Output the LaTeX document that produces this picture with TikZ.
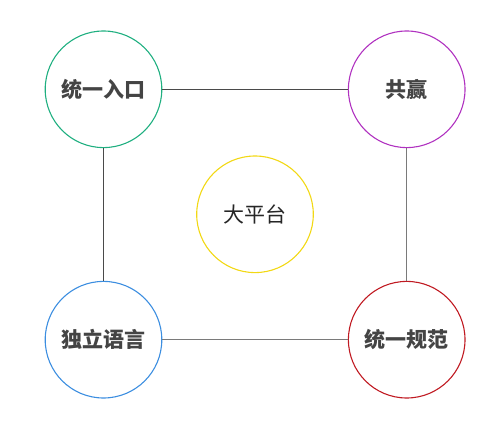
\documentclass[tikz,border=0pt]{standalone}
\usepackage{fontspec}
\newfontfamily\cjk{Noto Sans CJK SC}
\definecolor{entrygreen}{HTML}{1FAF80}
\definecolor{winpurple}{HTML}{B032C0}
\definecolor{langblue}{HTML}{3C8EE0}
\definecolor{normred}{HTML}{C01A22}
\definecolor{coreyellow}{HTML}{F2D814}
\definecolor{linedark}{HTML}{4A4A4A}
\definecolor{linelight}{HTML}{7A7A7A}
\definecolor{textgray}{HTML}{444444}
\begin{document}
\begin{tikzpicture}[x=1pt,y=-1pt,
	topic/.style={circle,draw,line width=1.1pt,minimum size=116.6pt,inner sep=0pt,
		font=\cjk\bfseries\fontsize{21}{25}\selectfont,text=textgray},
	link/.style={line width=1.4pt}]
	\useasboundingbox (0,0) rectangle (500,427);
	\node[topic,draw=entrygreen] (entry) at (103.5,89.3) {统一入口};
	\node[topic,draw=winpurple] (win) at (406.7,89.3) {共赢};
	\node[topic,draw=langblue] (lang) at (103.5,339.7) {独立语言};
	\node[topic,draw=normred] (norm) at (406.7,339.7) {统一规范};
	% center
	\node[topic,draw=coreyellow,font=\cjk\fontsize{21}{25}\selectfont,text=black!85] (core) at (255,214.3) {大平台};
	\draw[link,linedark] (entry) -- (win);
	\draw[link,linedark] (entry) -- (lang);
	\draw[link,linelight] (win) -- (norm);
	\draw[link,linelight] (lang) -- (norm);
\end{tikzpicture}
\end{document}
